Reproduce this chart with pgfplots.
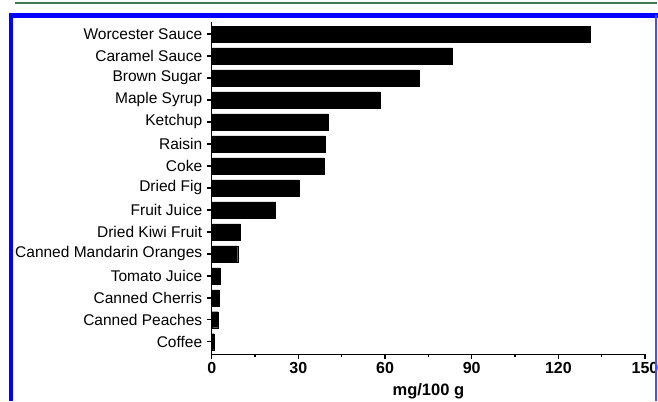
\documentclass[border=0pt]{standalone}
\usepackage{pgfplots}
\pgfplotsset{compat=1.18}
\usepackage{fontspec}
\setmainfont{Liberation Sans}
\definecolor{framegreen}{RGB}{62,122,82}
\definecolor{frameblue}{RGB}{0,0,255}

\begin{document}
\begin{tikzpicture}[x=1bp,y=1bp]
\useasboundingbox (0,0) rectangle (658,401);
\begin{axis}[
    at={(211.7bp,46.7bp)}, anchor=south west,
    scale only axis, width=433.3bp, height=332.6bp,
    xbar, bar width=16bp,
    xmin=0, xmax=150, ymin=-0.573, ymax=14.56,
    axis x line*=bottom, axis y line*=left,
    axis line style={-, line width=1.5bp},
    xtick={0,30,...,150}, minor x tick num=1,
    ytick={0,...,14},
    yticklabels={Coffee, Canned Peaches, Canned Cherris, Tomato Juice,
        Canned Mandarin Oranges, Dried Kiwi Fruit, Fruit Juice, Dried Fig,
        Coke~, Raisin~, Ketchup, Maple Syrup, Brown Sugar, Caramel Sauce,
        Worcester Sauce},
    tick align=outside, major tick length=5bp, minor tick length=3bp,
    tick style={black, line width=1.5bp},
    /pgf/number format/assume math mode=true,
    yticklabel style={font=\fontsize{15.5bp}{18bp}\selectfont, xshift=-1bp},
    xticklabel style={font=\bfseries\fontsize{16bp}{18bp}\selectfont},
    xlabel={mg/100 g},
    xlabel style={font=\bfseries\fontsize{16.5bp}{18bp}\selectfont, yshift=-3bp},
]
\addplot[fill=black, draw=black] coordinates {
    (131.0,14) (83.4,13) (71.7,12) (58.4,11) (40.3,10) (39.2,9) (38.8,8)
    (30.2,7) (22.1,6) (10.0,5) (9.0,4) (2.9,3) (2.5,2) (2.1,1) (0.8,0)
};
\end{axis}
\draw[framegreen, line width=2.5bp] (15,398) -- (657,398);
\draw[frameblue, line width=4.5bp] (11,0) -- (11,385.5) -- (658,385.5);
\draw[frameblue!70, line width=2bp] (656,385.5) -- (656,0);
\end{tikzpicture}
\end{document}
